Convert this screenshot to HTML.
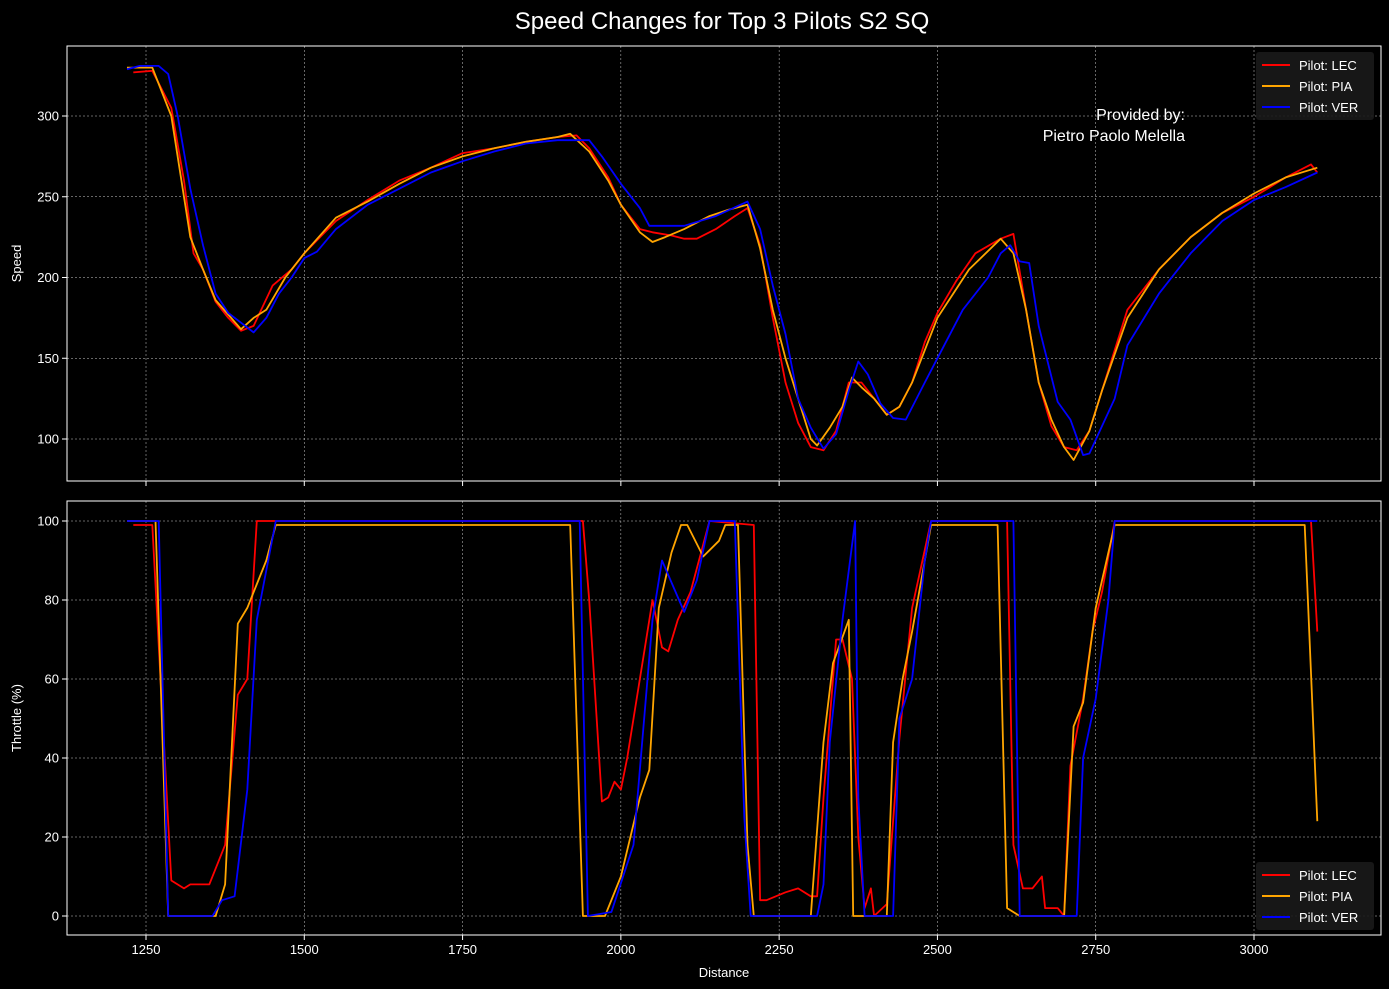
<!DOCTYPE html>
<html><head><meta charset="utf-8"><style>
body{margin:0;background:#000;}
svg{display:block;font-family:"Liberation Sans","DejaVu Sans",sans-serif;}
</style></head><body>
<svg id="c" width="1389" height="989"></svg>
<script>
const ticksX=[1250,1500,1750,2000,2250,2500,2750,3000];
const ticksSpeed=[100,150,200,250,300];
const ticksThr=[0,20,40,60,80,100];
const pilots=["LEC","PIA","VER"];
const colors=["#ff0000","#ffa500","#0000ff"];
const lecSpeedD=[1230,1260,1290,1310,1325,1340,1360,1380,1400,1420,1450,1480,1500,1550,1600,1650,1700,1750,1800,1850,1900,1930,1950,1980,2000,2030,2050,2080,2100,2120,2150,2180,2200,2220,2240,2260,2280,2300,2320,2340,2360,2380,2400,2420,2440,2460,2480,2500,2530,2560,2600,2620,2640,2660,2680,2700,2720,2740,2760,2780,2800,2850,2900,2950,3000,3050,3090,3100];
const lecSpeedV=[327,328,305,260,215,205,185,175,167,170,195,205,215,235,248,260,268,277,280,284,287,288,280,262,245,230,228,226,224,224,230,238,243,220,175,135,110,95,93,105,135,135,125,115,120,135,160,178,198,215,224,227,180,135,108,95,93,105,130,155,180,205,225,240,250,262,270,265];
const piaSpeedD=[1220,1260,1290,1320,1340,1360,1380,1400,1420,1440,1470,1500,1550,1600,1650,1700,1750,1800,1850,1900,1920,1950,1980,2000,2030,2050,2070,2100,2140,2170,2200,2220,2240,2260,2280,2300,2310,2330,2350,2365,2380,2400,2420,2440,2460,2480,2500,2550,2600,2620,2640,2660,2680,2700,2715,2740,2760,2800,2850,2900,2950,3000,3050,3100];
const piaSpeedV=[330,330,300,225,205,186,177,168,175,180,200,215,237,247,258,268,275,280,284,287,289,278,260,245,228,222,225,230,238,242,245,218,180,150,125,100,96,107,120,138,132,125,115,120,135,155,175,205,224,215,180,135,112,95,87,105,130,175,205,225,240,252,262,268];
const verSpeedD=[1220,1240,1270,1285,1300,1320,1340,1360,1380,1400,1420,1440,1460,1480,1500,1520,1550,1600,1650,1700,1750,1800,1850,1900,1950,1970,2000,2030,2045,2100,2150,2200,2220,2240,2260,2280,2300,2320,2340,2360,2375,2390,2410,2430,2450,2480,2500,2540,2580,2600,2615,2630,2645,2660,2690,2710,2730,2740,2760,2780,2800,2850,2900,2950,3000,3050,3100];
const verSpeedV=[329,331,331,326,300,255,220,190,178,172,166,175,190,200,212,216,230,245,255,265,272,278,283,285,285,275,258,243,232,232,238,247,230,195,165,125,107,94,103,130,148,140,122,113,112,135,150,180,200,215,220,210,209,170,123,112,90,91,108,125,158,190,215,235,248,256,265];
const lecThrD=[1230,1260,1290,1310,1320,1350,1375,1395,1410,1425,1440,1940,1950,1970,1980,1990,2000,2010,2040,2050,2065,2075,2090,2110,2140,2210,2220,2230,2260,2280,2300,2310,2320,2340,2350,2365,2375,2385,2395,2400,2420,2440,2460,2490,2610,2620,2635,2650,2665,2670,2690,2700,2710,2730,2745,2760,2780,3090,3100];
const lecThrV=[99,99,9,7,8,8,18,56,60,100,100,100,80,29,30,34,32,40,70,80,68,67,75,82,100,99,4,4,6,7,5,5,30,70,70,60,20,2,7,0,3,45,78,100,100,18,7,7,10,2,2,0,38,55,72,82,100,100,72];
const piaThrD=[1220,1265,1285,1360,1375,1395,1410,1440,1455,1920,1940,1975,2000,2030,2045,2060,2080,2095,2105,2130,2155,2165,2185,2200,2210,2300,2320,2335,2360,2367,2385,2420,2430,2445,2460,2480,2490,2595,2610,2630,2700,2715,2730,2750,2780,3080,3100];
const piaThrV=[100,100,0,0,8,74,78,90,99,99,0,0,10,30,37,78,92,99,99,91,95,99,99,18,0,0,44,64,75,0,0,0,44,60,72,90,99,99,2,0,0,48,54,78,99,99,24];
const verThrD=[1220,1270,1285,1355,1370,1390,1410,1425,1455,1935,1948,1985,2020,2050,2065,2100,2120,2140,2180,2195,2205,2310,2320,2330,2350,2370,2375,2385,2430,2440,2460,2480,2490,2620,2630,2720,2730,2750,2770,2780,3100];
const verThrV=[100,100,0,0,4,5,32,75,100,100,0,1,18,75,90,77,85,100,100,25,0,0,8,44,75,100,30,0,0,50,60,90,100,100,0,0,40,55,80,100,100];

const NS="http://www.w3.org/2000/svg";
const svg=document.getElementById('c');
function mk(t,a,p){const e=document.createElementNS(NS,t);for(const k in a)e.setAttribute(k,a[k]);(p||svg).appendChild(e);return e;}
const L=67,R=1381;
const xs=d=>146+(d-1250)*(1254-146)/1750;
const panels=[
 {top:46,bot:481,y:v=>439-(v-100)*(439-116)/200,ticks:ticksSpeed,label:"Speed",name:"speed",
  series:[[lecSpeedD,lecSpeedV],[piaSpeedD,piaSpeedV],[verSpeedD,verSpeedV]],legY:55},
 {top:501,bot:935,y:v=>916-v*(916-521)/100,ticks:ticksThr,label:"Throttle (%)",name:"throttle",
  series:[[lecThrD,lecThrV],[piaThrD,piaThrV],[verThrD,verThrV]],legY:865}
];
const title=mk('text',{x:722,y:29,'text-anchor':'middle',fill:'#fff','font-size':24});
title.textContent="Speed Changes for Top 3 Pilots S2 SQ";


panels.forEach(p=>{
 const g=mk('g',{});
 
 
 mk('rect',{x:L,y:p.top,width:R-L,height:p.bot-p.top,fill:'#000'},g);
 ticksX.forEach(t=>{const x=xs(t);
  const gl=mk('line',{x1:x,x2:x,y1:p.top,y2:p.bot,stroke:'#fff','stroke-width':0.5,'stroke-dasharray':'2,2',opacity:0.8},g);
  
  mk('line',{x1:x,x2:x,y1:p.bot,y2:p.bot+5,stroke:'#fff'},g);
  if(p.name==='throttle'){const tl=mk('text',{x:x,y:p.bot+19,fill:'#fff','font-size':13,'text-anchor':'middle'},g);tl.textContent=t;
   }
 });
 p.ticks.forEach(t=>{const y=p.y(t);
  const gl=mk('line',{x1:L,x2:R,y1:y,y2:y,stroke:'#fff','stroke-width':0.5,'stroke-dasharray':'2,2',opacity:0.8},g);
  
  mk('line',{x1:L-5,x2:L,y1:y,y2:y,stroke:'#fff'},g);
  const tl=mk('text',{x:L-8,y:y+4.5,fill:'#fff','font-size':13,'text-anchor':'end'},g);tl.textContent=t;
  
 });
 p.series.forEach((s,i)=>{
  const pts=s[0].map((d,j)=>xs(d).toFixed(1)+','+p.y(s[1][j]).toFixed(1)).join(' ');
  const pl=mk('polyline',{points:pts,fill:'none',stroke:colors[i],'stroke-width':1.8,'stroke-linejoin':'round'},g);
  
  
 });
 mk('rect',{x:L,y:p.top,width:R-L,height:p.bot-p.top,fill:'none',stroke:'#fff','stroke-width':1},g);
 const yl=mk('text',{x:0,y:0,fill:'#fff','font-size':13,'text-anchor':'middle',transform:`translate(21,${(p.top+p.bot)/2}) rotate(-90)`},g);
 yl.textContent=p.label;
 
 const lg=mk('g',{},g);
 
 mk('rect',{x:1256,y:p.legY-3,width:118,height:68,fill:'#1a1a1a',opacity:0.9,rx:3},lg);
 pilots.forEach((n,i)=>{const y=p.legY+10+i*21;
  mk('line',{x1:1262,x2:1290,y1:y,y2:y,stroke:colors[i],'stroke-width':2},lg);
  const t=mk('text',{x:1299,y:y+5,fill:'#fff','font-size':13},lg);t.textContent="Pilot: "+n;
  
 });
});
const xt=mk('text',{x:724,y:977,fill:'#fff','font-size':13,'text-anchor':'middle'});xt.textContent="Distance";

const c1=mk('text',{x:1185,y:120,fill:'#fff','font-size':16,'text-anchor':'end'});c1.textContent="Provided by:";

const c2=mk('text',{x:1185,y:141,fill:'#fff','font-size':16,'text-anchor':'end'});c2.textContent="Pietro Paolo Melella";

</script>
</body></html>
